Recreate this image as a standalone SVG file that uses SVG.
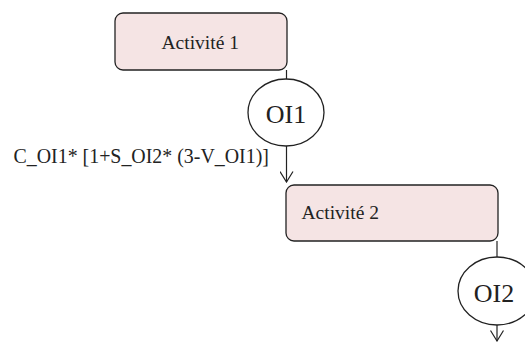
<svg xmlns="http://www.w3.org/2000/svg" width="525" height="343" viewBox="0 0 525 343">
<style>
.box{fill:#f5e4e4;stroke:#222;stroke-width:1.3}
.ell{fill:#fff;stroke:#222;stroke-width:1.3}
.lbl{font-family:"Liberation Serif","Times New Roman",serif;fill:#222}
.conn{fill:none;stroke:#222;stroke-width:1.2}
</style>
<defs>
<marker id="arr" viewBox="0 0 12 14" refX="11" refY="7" markerWidth="12" markerHeight="14" markerUnits="userSpaceOnUse" orient="auto">
<path d="M0.5,0.5 L11,7 L0.5,13.5" fill="none" stroke="#222" stroke-width="1.2"/>
</marker>
</defs>
<rect width="525" height="343" fill="#fff"/>
<g id="connectors">
<line class="conn" x1="286.5" y1="70" x2="286.5" y2="79"/>
<line class="conn" x1="286.5" y1="146" x2="286.5" y2="182" marker-end="url(#arr)"/>
<line class="conn" x1="497" y1="241" x2="497" y2="257"/>
<line class="conn" x1="497" y1="325" x2="497" y2="341" marker-end="url(#arr)"/>
</g>
<g id="activite1">
<rect class="box" x="115" y="13" width="172" height="57" rx="8"/>
<text class="lbl" x="161.5" y="49" font-size="19.5">Activité 1</text>
</g>
<g id="oi1">
<ellipse class="ell" cx="286" cy="112.5" rx="38" ry="33.5"/>
<text class="lbl" x="286" y="122.5" font-size="26" text-anchor="middle">OI1</text>
</g>
<g id="formula">
<text class="lbl" x="13.5" y="163" font-size="19.9">C_OI1* [1+S_OI2* (3-V_OI1)]</text>
</g>
<g id="activite2">
<rect class="box" x="286" y="185" width="212" height="56" rx="8"/>
<text class="lbl" x="301.5" y="219" font-size="19.5">Activité 2</text>
</g>
<g id="oi2">
<ellipse class="ell" cx="497" cy="291" rx="39" ry="34"/>
<text class="lbl" x="494" y="301.5" font-size="26" text-anchor="middle">OI2</text>
</g>
</svg>
